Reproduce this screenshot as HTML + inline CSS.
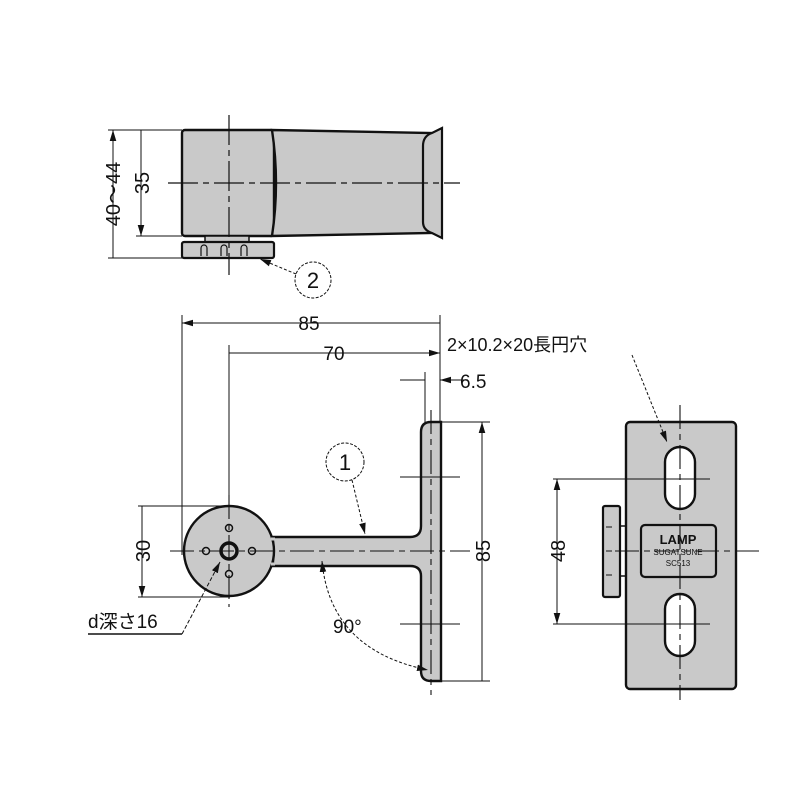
<!DOCTYPE html>
<html><head><style>body{margin:0;background:#fff}svg{display:block}text{font-family:"Liberation Sans","Noto Sans CJK JP",sans-serif;fill:#111}</style></head><body>
<svg width="800" height="800" viewBox="0 0 800 800" xmlns="http://www.w3.org/2000/svg">
<defs><marker id="a" viewBox="0 0 10 10" refX="10" refY="5" markerWidth="11" markerHeight="11" orient="auto-start-reverse" markerUnits="userSpaceOnUse"><path d="M0,2 L10,5 L0,8z" fill="#111"/></marker></defs>
<g stroke="#111" fill="none">
<!-- top view -->
<rect x="182" y="130" width="92" height="106" rx="3" fill="#c9c9c9" stroke-width="2.4"/>
<path d="M272,130 Q280,183 272,236 L432,233 L432,133 Z" fill="#c9c9c9" stroke-width="2.4"/>
<path d="M432,133 Q423,136 423,146 L423,222 Q423,230 432,233 L442,238 L442,128 Z" fill="#c9c9c9" stroke-width="2.2"/>
<rect x="205" y="236" width="44" height="6" fill="#c9c9c9" stroke-width="1.5"/>
<rect x="182" y="242" width="92" height="16" rx="2" fill="#c9c9c9" stroke-width="2.2"/>
<path d="M201,256v-8a3,3 0 0 1 6,0v8M221,256v-8a3,3 0 0 1 6,0v8M241,256v-8a3,3 0 0 1 6,0v8" stroke-width="1.2"/>
<path d="M168,183H460M229,115V275" stroke-width="1.2" stroke-dasharray="30,5,6,5"/>
<path d="M108,130H182M136,236H182M108,258H182" stroke-width="1"/>
<path d="M113,130V258M141,130V236" stroke-width="1" marker-start="url(#a)" marker-end="url(#a)"/>
<circle cx="313" cy="280" r="18" stroke-width="1" stroke-dasharray="3,1.5"/>
<path d="M296,274L260,259" stroke-width="1" stroke-dasharray="3,2" marker-end="url(#a)"/>
<!-- front view -->
<path d="M182,315V555M440,315V425M229,345V500M425,372V425" stroke-width="1"/>
<path d="M182,323H440M229,353H440" stroke-width="1" marker-start="url(#a)" marker-end="url(#a)"/>
<path d="M400,380H425M468,380H440" stroke-width="1" marker-end="url(#a)"/>
<path d="M273,537 L410,537 Q421,537 421,526 L421,432 Q421,422 431,422 L441,422 L441,681 L431,681 Q421,681 421,671 L421,576 Q421,566 410,566 L273,566 Z" fill="#c9c9c9" stroke-width="2.4"/>
<circle cx="229" cy="551" r="45" fill="#c9c9c9" stroke-width="2.4"/>
<path d="M271,539L275,539M271,564L275,564" stroke="#c9c9c9" stroke-width="3"/>
<circle cx="229" cy="551" r="8" stroke-width="3.5"/>
<circle cx="229" cy="528" r="3.5" stroke-width="1.5"/><circle cx="229" cy="574" r="3.5" stroke-width="1.5"/>
<circle cx="206" cy="551" r="3.5" stroke-width="1.5"/><circle cx="252" cy="551" r="3.5" stroke-width="1.5"/>
<path d="M170,551H470M229,495V607M431,410V695" stroke-width="1.1" stroke-dasharray="24,5,6,5"/>
<path d="M400,477H460M400,624H460M441,422H490M441,681H490M138,506H230M138,597H230" stroke-width="1"/>
<path d="M482,422V681M142,506V597" stroke-width="1" marker-start="url(#a)" marker-end="url(#a)"/>
<circle cx="345" cy="462" r="19" stroke-width="1" stroke-dasharray="3,1.5"/>
<path d="M352,480L365,534" stroke-width="1" stroke-dasharray="3,2" marker-end="url(#a)"/>
<path d="M322,561Q330,650 428,670" stroke-width="1" stroke-dasharray="3,2" marker-start="url(#a)" marker-end="url(#a)"/>
<path d="M182,634L220,562" stroke-width="1" stroke-dasharray="4,2" marker-end="url(#a)"/>
<path d="M88,634H182" stroke-width="1.4"/>
<!-- side view -->
<rect x="626" y="422" width="110" height="267" rx="4" fill="#c9c9c9" stroke-width="2.4"/>
<rect x="665" y="447" width="30" height="62" rx="15" fill="#fff" stroke-width="2.4"/>
<rect x="665" y="594" width="30" height="62" rx="15" fill="#fff" stroke-width="2.4"/>
<rect x="641" y="525" width="75" height="52" rx="4" fill="#c9c9c9" stroke-width="2.2"/>
<rect x="603" y="506" width="17" height="91" rx="2" fill="#c9c9c9" stroke-width="2.2"/>
<path d="M606,527h6M606,551h6M606,575h6" stroke-width="1"/>
<path d="M620,526H626M620,576H626" stroke-width="1.5"/>
<path d="M680,405V700M615,551H762" stroke-width="1.1" stroke-dasharray="24,5,6,5"/>
<path d="M553,479H710M553,624H710" stroke-width="1"/>
<path d="M557,479V624" stroke-width="1" marker-start="url(#a)" marker-end="url(#a)"/>
<path d="M632,355L667,442" stroke-width="1" stroke-dasharray="3,2" marker-end="url(#a)"/>
</g>
<g font-size="19">
<text x="309" y="330" text-anchor="middle">85</text>
<text x="334" y="360" text-anchor="middle">70</text>
<text x="460" y="388">6.5</text>
<text x="447" y="351" font-size="18">2×10.2×20長円穴</text>
<text x="333" y="633">90°</text>
<text x="88" y="628">d深さ16</text>
<text x="313" y="288" text-anchor="middle" font-size="22">2</text>
<text x="345" y="470" text-anchor="middle" font-size="22">1</text>
<text transform="translate(120,194) rotate(-90)" text-anchor="middle" font-size="20">40～44</text>
<text transform="translate(149,183) rotate(-90)" text-anchor="middle" font-size="20">35</text>
<text transform="translate(150,551) rotate(-90)" text-anchor="middle" font-size="20">30</text>
<text transform="translate(490,551) rotate(-90)" text-anchor="middle" font-size="20">85</text>
<text transform="translate(565,551) rotate(-90)" text-anchor="middle" font-size="20">48</text>
<text x="678" y="544" text-anchor="middle" font-size="13" font-weight="bold">LAMP</text>
<text x="678" y="555" text-anchor="middle" font-size="8">SUGATSUNE</text>
<text x="678" y="566" text-anchor="middle" font-size="8">SC513</text>
</g>
</svg>
</body></html>
